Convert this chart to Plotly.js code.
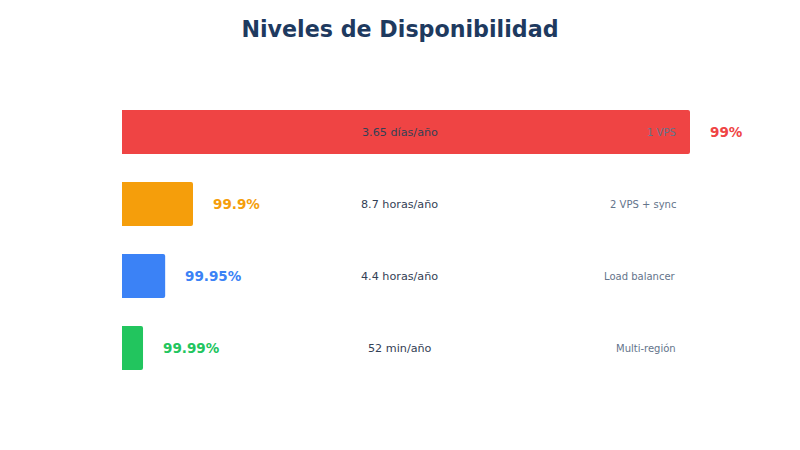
<!DOCTYPE html>
<html>
<head>
<meta charset="utf-8">
<script src="https://cdn.plot.ly/plotly-3.0.1.min.js"></script>
<style>html,body{margin:0;padding:0;background:#fff;}#chart{width:800px;height:450px;}</style>
</head>
<body>
<div id="chart"></div>
<script>
const levels = ["99%", "99.9%", "99.95%", "99.99%"];
const barLengths = [100, 12.5, 7.6, 3.7];
const downtime = ["3.65 días/año", "8.7 horas/año", "4.4 horas/año", "52 min/año"];
const setups = ["1 VPS", "2 VPS + sync", "Load balancer", "Multi-región"];
const colors = ["#ef4444", "#f59e0b", "#3b82f6", "#22c55e"];

const FONT = "DejaVu Sans, sans-serif";

const trace = {
  type: "bar",
  orientation: "h",
  y: levels,
  x: barLengths,
  width: 0.61,
  marker: { color: colors, cornerradius: 2, line: { width: 0 } },
  hoverinfo: "skip",
  showlegend: false
};

const annotations = [];
levels.forEach((lv, i) => {
  annotations.push({
    x: barLengths[i], y: lv, xref: "x", yref: "y",
    text: "<b>" + lv + "</b>", showarrow: false,
    xanchor: "left", xshift: 18,
    font: { family: FONT, size: 13.5, color: colors[i] }
  });
  annotations.push({
    x: 0.489, y: lv, xref: "paper", yref: "y",
    text: downtime[i], showarrow: false, xanchor: "center",
    font: { family: FONT, size: 11.2, color: "#334155" }
  });
  annotations.push({
    x: 0.978, y: lv, xref: "paper", yref: "y",
    text: setups[i], showarrow: false, xanchor: "right",
    font: { family: FONT, size: 10, color: "#64748b" }
  });
});

const layout = {
  width: 800, height: 450,
  margin: { l: 122, r: 110, t: 96, b: 66 },
  paper_bgcolor: "#ffffff",
  plot_bgcolor: "#ffffff",
  font: { family: FONT },
  title: {
    text: "<b>Niveles de Disponibilidad</b>",
    x: 0.5, xanchor: "center", y: 0.935, yanchor: "middle",
    font: { family: FONT, size: 22.2, color: "#1e3a5f" }
  },
  xaxis: { range: [0, 100], visible: false, fixedrange: true },
  yaxis: { type: "category", categoryorder: "array", categoryarray: levels,
           autorange: "reversed", visible: false, fixedrange: true },
  annotations: annotations,
  bargap: 0.39
};

Plotly.newPlot("chart", [trace], layout, { displayModeBar: false, staticPlot: true });
</script>
</body>
</html>
